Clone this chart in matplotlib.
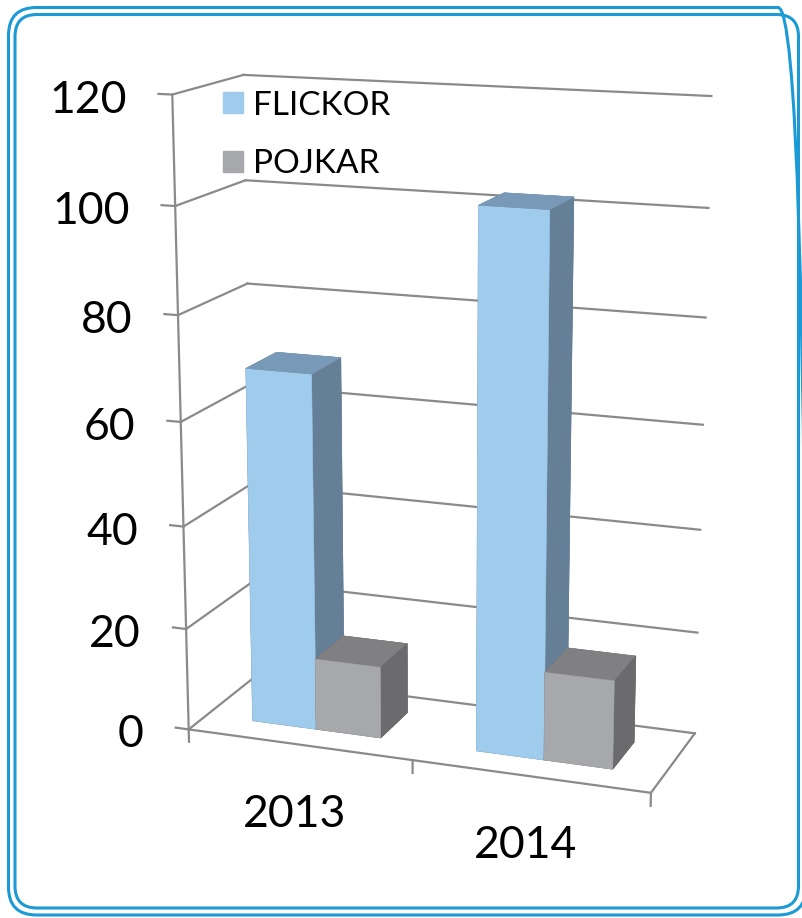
import numpy as np
import matplotlib
matplotlib.use("Agg")
import matplotlib.pyplot as plt
from matplotlib.patches import FancyBboxPatch, Patch
from matplotlib.transforms import IdentityTransform
from mpl_toolkits.mplot3d import proj3d

# data
years = ["2013", "2014"]
flickor = [69, 102]
pojkar = [14, 17]
series = ["FLICKOR", "POJKAR"]
zticks = [0, 20, 40, 60, 80, 100, 120]

# colours: front, top, side
blue = ("#9fcbec", "#7899b7", "#657f97")
grey = ("#a7a8ab", "#808082", "#6b6b6d")
line_c = "#8a8a8a"
border_c = "#1b9ad6"

plt.rcParams['font.family'] = ['Lato', 'DejaVu Sans']

fig = plt.figure(figsize=(8.03, 9.18), dpi=100)
ax = fig.add_axes([0.036, 0.027, 1, 1], projection='3d')
ax.set_proj_type('persp', focal_length=0.6)
ax.view_init(elev=14.5, azim=-70)
ax.set_box_aspect((2, 0.68, 2.655), zoom=1.014)
ax.set_xlim(0, 2)
ax.set_ylim(0, 1)
ax.set_zlim(0, 120)
ax.set_axis_off()
ax.computed_zorder = False

n = len(years)
depth0, depth1 = 0.27, 0.73
bw = 0.29

# back wall, side wall and floor (Excel style 3D box)
for v in zticks:
    ax.plot([0, n], [1, 1], [v, v], color=line_c, lw=1.6, zorder=1)
    ax.plot([0, 0], [0, 1], [v, v], color=line_c, lw=1.6, zorder=1)
    ax.plot([-0.06, 0], [0, 0], [v, v], color=line_c, lw=1.6, zorder=1)
ax.plot([0, 0], [0, 0], [0, zticks[-1]], color=line_c, lw=1.6, zorder=1)
ax.plot([0, n], [0, 0], [0, 0], color=line_c, lw=1.6, zorder=1)
ax.plot([n, n], [0, 1], [0, 0], color=line_c, lw=1.6, zorder=1)
for c in range(n + 1):
    ax.plot([c, c], [0, 0], [0, -2.5], color=line_c, lw=1.6, zorder=1)

# bars, drawn left to right so the nearer one covers the farther one
k = 0
for i in range(n):
    for j, (vals, cols) in enumerate([(flickor, blue), (pojkar, grey)]):
        front, top, side = cols
        # faces: -z, +z, -y, +y, -x, +x
        fc = [side, top, front, side, side, side]
        x0 = i + 0.5 - bw + j * bw
        ax.bar3d(x0, depth0, 0, bw, depth1 - depth0, vals[i], color=fc,
                 edgecolor=fc, linewidth=0.4, shade=False, zorder=3 + k)
        k += 1

fig.legend([Patch(color=blue[0]), Patch(color=grey[0])], series,
           loc='upper left', bbox_to_anchor=(0.240, 0.934), frameon=False,
           fontsize=24, handlelength=0.6, handleheight=0.6,
           handletextpad=0.3, labelspacing=0.85)

# border
for (l, r, t, b, rad) in [(8.5, 806, 7.5, 915, 28), (15, 798.5, 14.5, 908, 22)]:
    fig.patches.append(FancyBboxPatch((l, 918 - b), r - l, b - t,
                                      boxstyle="round,pad=0,rounding_size=%d" % rad,
                                      fill=False, ec=border_c, lw=2.2,
                                      transform=IdentityTransform(), figure=fig))

# axis labels placed at projected positions
fig.canvas.draw()
M = ax.get_proj()


def to_px(x, y, z):
    xs, ys, _ = proj3d.proj_transform(x, y, z, M)
    return ax.transData.transform((xs, ys))


px_tr = IdentityTransform()
for v in zticks:
    px, py = to_px(0, 0, v)
    fig.text(px - 45, py - 18, str(v), ha='right', va='baseline',
             fontsize=32, transform=px_tr)
for i, yr in enumerate(years):
    px, py = to_px(i + 0.5, 0, 0)
    fig.text(px - 4, py - 82, yr, ha='center', va='baseline',
             fontsize=32, transform=px_tr)

fig.savefig("out.png", dpi=100)
